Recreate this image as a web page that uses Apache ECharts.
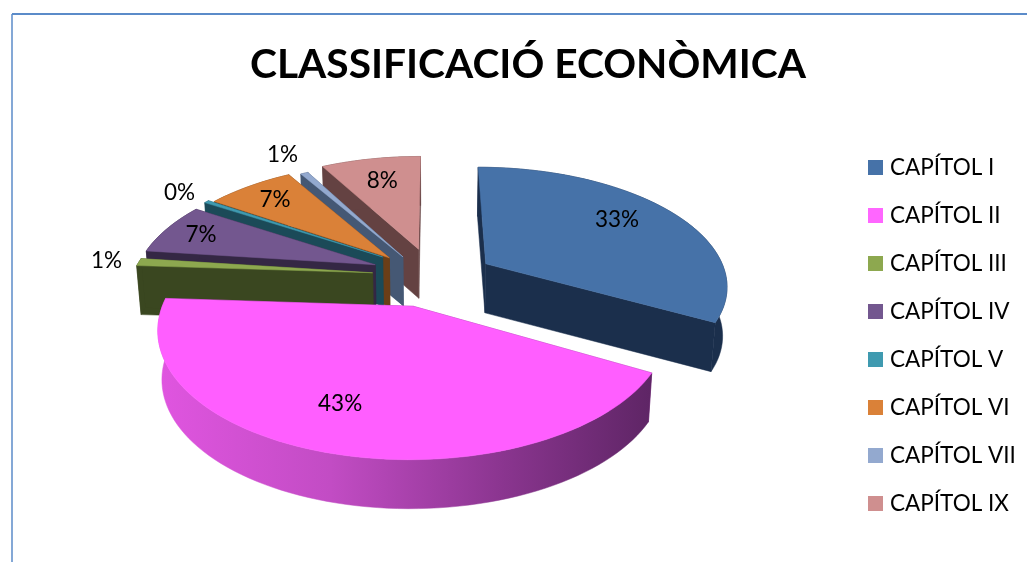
<!DOCTYPE html>
<html>
<head>
<meta charset="utf-8">
<style>
  html, body { margin: 0; padding: 0; background: #fff; }
  #chart { width: 1027px; height: 562px; }
</style>
<script src="https://cdn.jsdelivr.net/npm/echarts@6/dist/echarts.min.js"></script>
</head>
<body>
<div id="chart"></div>
<script>
const titleText = "CLASSIFICACIÓ ECONÒMICA";
const categories = ["CAPÍTOL I", "CAPÍTOL II", "CAPÍTOL III", "CAPÍTOL IV", "CAPÍTOL V", "CAPÍTOL VI", "CAPÍTOL VII", "CAPÍTOL IX"];
const values = [33, 43, 1, 7, 0.4, 7, 0.6, 8];
const topColors = ["#4672A8", "#FF5EFF", "#8DA84F", "#73578F", "#3F9AB0", "#DA8138", "#93A9CF", "#CF8F8F"];
const sideColors = ["#1B2F4C", "#8A358F", "#3A4720", "#342744", "#1B4A58", "#6B3E17", "#455874", "#644242"];
const legendColors = ["#4672A8", "#FF66FF", "#8DA84F", "#73578F", "#3F9AB0", "#DA8138", "#93A9CF", "#CF8F8F"];
// back to front
const paintOrder = [7, 6, 5, 4, 3, 0, 2, 1];
// how far each slice is pulled out of the pie, on the flat disk
const explodeU = [55, -18, -60, -58, -51, -44, -30, -14];
const explodeV = [-34, 52, -15, -32, -49, -47, -49, -66];
// where the percent label sits: share of the radius, and turn from the slice middle
const labelRadius = [0.74, 0.72, 1.14, 0.83, 1.17, 0.8, 1.26, 0.73];
const labelTurn = [-4, 4, 0, 0, 0, 0, 0, 0];

const centerX = 432, centerY = 280;
const radius = 242, depth = 49, bottomShrink = 0.985;
const tiltY = 0.4867, perspective = 0.000693;

const total = values.reduce((a, b) => a + b, 0);
const startAngles = [];
values.reduce((sum, v, i) => { startAngles[i] = sum / total * 360; return sum + v; }, 0);

// disk coordinates to screen, v grows towards the viewer
function project(u, v) {
  const s = 1 / (1 - perspective * v);
  return [centerX + u * s, centerY + tiltY * v * s];
}

function diskPoint(i, deg, r) {
  const a = deg * Math.PI / 180;
  return project(explodeU[i] + r * Math.sin(a), explodeV[i] - r * Math.cos(a));
}

function down(p) {
  return [centerX + (p[0] - centerX) * bottomShrink, p[1] + depth];
}

function poly(points, fill) {
  return { type: "polygon", shape: { points: points }, style: { fill: fill, stroke: fill, lineWidth: 0.5 } };
}

function sliceRender(i) {
  return function (params, api) {
    const value = api.value(0);
    const start = startAngles[i];
    const end = start + value / total * 360;
    const rim = [];
    const steps = Math.max(2, Math.ceil((end - start) / 2));
    for (let k = 0; k <= steps; k++) {
      rim.push(diskPoint(i, start + (end - start) * k / steps, radius));
    }
    const apex = diskPoint(i, start, 0);
    const first = rim[0];
    const last = rim[rim.length - 1];
    const wall = rim.concat(rim.slice().reverse().map(down));
    // the big slice gets the shaded side like in the office chart
    const outerFill = i === 1 ? {
      type: "linear", x: 0, y: 0, x2: 1, y2: 0,
      colorStops: [
        { offset: 0, color: "#E055E0" },
        { offset: 0.35, color: "#C24CC4" },
        { offset: 0.7, color: "#8A358F" },
        { offset: 1, color: "#5E2565" },
      ],
    } : sideColors[i];
    const labelPos = diskPoint(i, (start + end) / 2 + labelTurn[i], radius * labelRadius[i]);
    return {
      type: "group",
      children: [
        poly([apex, first, down(first), down(apex)], sideColors[i]),
        poly([apex, last, down(last), down(apex)], sideColors[i]),
        poly(wall, outerFill),
        poly([apex].concat(rim), topColors[i]),
        {
          type: "text",
          x: labelPos[0],
          y: labelPos[1],
          style: {
            text: Math.round(value / total * 100) + "%",
            fill: "#000",
            font: "22.5px Lato",
            align: "center",
            verticalAlign: "middle",
          },
        },
      ],
    };
  };
}

const chart = echarts.init(document.getElementById("chart"));
chart.setOption({
  backgroundColor: "#fff",
  animation: false,
  title: {
    text: titleText,
    left: 523,
    top: 39,
    textAlign: "center",
    textStyle: { fontFamily: "Lato", fontWeight: "bold", fontSize: 40.7, color: "#000" },
  },
  legend: {
    orient: "vertical",
    left: 868,
    top: 156,
    padding: 0,
    itemWidth: 15,
    itemHeight: 15,
    itemGap: 25,
    icon: "rect",
    data: categories,
    textStyle: { fontFamily: "Lato", fontSize: 22.5, color: "#000", padding: [0, 0, 0, 2] },
  },
  graphic: [
    { type: "line", shape: { x1: 12, y1: 14, x2: 1027, y2: 14 }, style: { stroke: "#5B8BC9", lineWidth: 2 } },
    { type: "line", shape: { x1: 12, y1: 14, x2: 12, y2: 562 }, style: { stroke: "#5B8BC9", lineWidth: 1.5 } },
  ],
  series: categories.map((name, i) => ({
    type: "custom",
    name: name,
    coordinateSystem: "none",
    z: 2 + paintOrder.indexOf(i),
    itemStyle: { color: legendColors[i] },
    renderItem: sliceRender(i),
    data: [[values[i]]],
  })),
});
</script>
</body>
</html>
